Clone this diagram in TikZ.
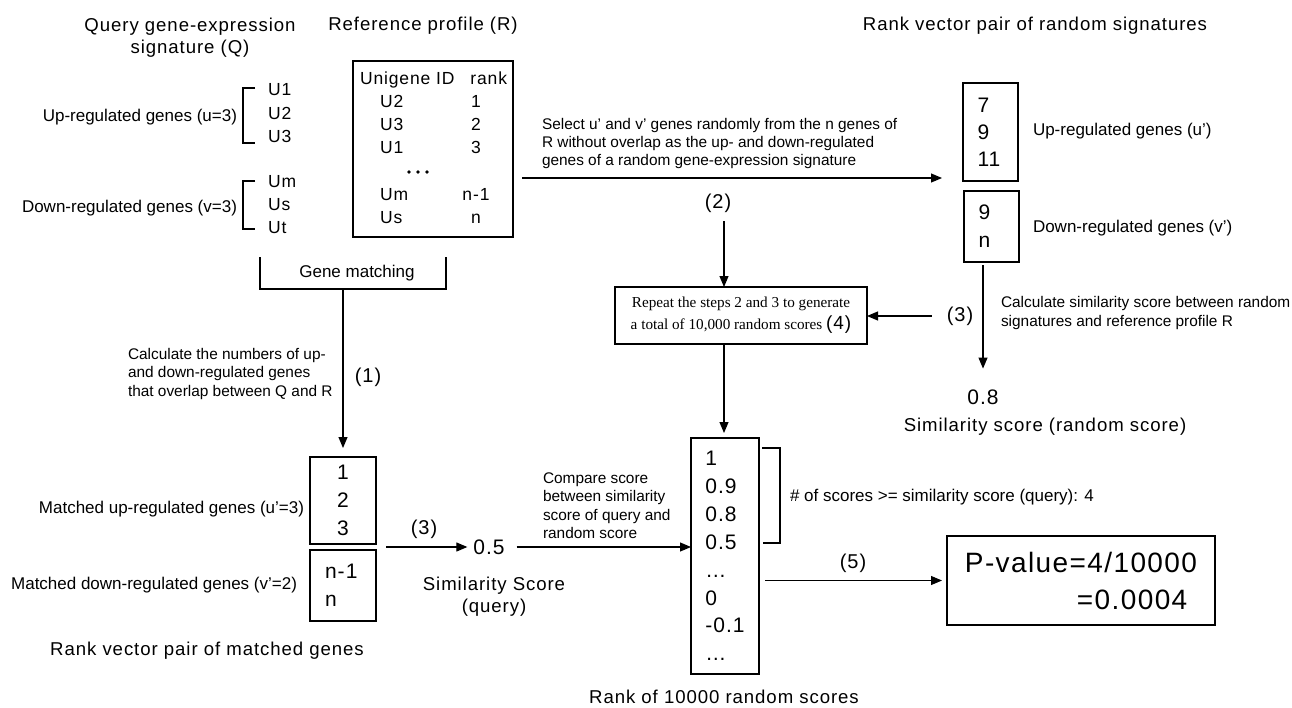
\documentclass[tikz,border=0pt]{standalone}
\usepackage{fontspec}
\setmainfont{Liberation Sans}
\newfontfamily\spf[LetterSpace=5]{Liberation Sans}
\newfontfamily\serf{Liberation Serif}
\usetikzlibrary{arrows.meta,calc}
\begin{document}
\begin{tikzpicture}[x=1pt,y=-1pt,
  every node/.style={inner sep=0pt, outer sep=0pt},
  arr/.style={line width=1.1pt, -{Triangle[length=11pt,width=9pt]}},
  ln/.style={line width=1.1pt},
  boxs/.style={draw, line width=1.2pt},
  ttl/.style={font=\spf\fontsize{18.6}{22}\selectfont, align=center},
  lab/.style={font=\fontsize{17}{20}\selectfont, text height=12.5pt, text depth=3.5pt},
  sml/.style={font=\fontsize{15.4}{18.4}\selectfont, align=left},
  num/.style={font=\spf\fontsize{21}{27.9}\selectfont},
  gen/.style={font=\spf\fontsize{17.5}{23}\selectfont, text height=12.8pt, text depth=3.6pt},
  stepn/.style={font=\spf\fontsize{20}{24}\selectfont},
]
\fill[white] (0,0) rectangle (1292,707);
\useasboundingbox (0,0) rectangle (1292,707);

% titles
\node[ttl] (tq) at (190,38) {Query gene-expression\\signature (Q)};
\node[ttl] (tr) at (423,26) {Reference profile\hspace{6pt}(R)};
\node[ttl] (trs) at (1035,26) {Rank vector pair of random signatures};

% query signature
\node[lab, anchor=east] (upq) at (237,117) {Up-regulated genes (u=3)};
\node[lab, anchor=east] (dnq) at (237,208) {Down-regulated genes (v=3)};
\draw[ln] (255,88) -- (243,88) -- (243,143) -- (255,143);
\draw[ln] (255,181) -- (243,181) -- (243,229) -- (255,229);
\node[gen, anchor=west] (u1) at (268,91) {U1};
\node[gen, anchor=west] (u2) at (268,115) {U2};
\node[gen, anchor=west] (u3) at (268,138) {U3};
\node[gen, anchor=west] (um) at (268,183) {Um};
\node[gen, anchor=west] (us) at (268,206) {Us};
\node[gen, anchor=west] (ut) at (268,229) {Ut};

% reference profile
\node[boxs, minimum width=160, minimum height=176] (ref) at (433,149) {};
\node[gen, anchor=west] (hid) at (360,80) {Unigene ID};
\node[gen, anchor=east] (hrk) at (507,80) {rank};
\node[gen, anchor=west] (r1) at (380,103) {U2};
\node[gen, anchor=west] (r2) at (380,126) {U3};
\node[gen, anchor=west] (r3) at (380,149) {U1};
\node[gen, anchor=west] (r4) at (380,196) {Um};
\node[gen, anchor=west] (r5) at (380,219) {Us};
\node[gen] (k1) at (476,103) {1};
\node[gen] (k2) at (476,126) {2};
\node[gen] (k3) at (476,149) {3};
\node[gen] (k4) at (476,196) {n-1};
\node[gen] (k5) at (476,219) {n};
\fill (409,172) circle (1.9);
\fill (418,172) circle (1.9);
\fill (427,172) circle (1.9);

% gene matching
\draw[ln] (260,257) -- (260,289) -- (446,289) -- (446,257);
\coordinate (gmb) at (343,289);
\node[lab] (gm) at (357,273) {Gene matching};

\node[boxs, minimum width=66, minimum height=87, num, align=center] (b123) at (343,500.5) {1\\2\\3};
\node[boxs, minimum width=66, minimum height=71, num, text width=36, align=left] (bn) at (343,585.5) {n-1\\n};
\draw[arr, shorten >=9pt] (gmb) -- (b123.north);
\node[sml, anchor=west] (calc1) at (128,374) {Calculate the numbers of up-\\and down-regulated genes\\that overlap between Q and R};
\node[stepn] (p1) at (368,377) {(1)};

\node[lab, anchor=east] (mup) at (304,509) {Matched up-regulated genes (u’=3)};
\node[lab, anchor=east] (mdn) at (297,585) {Matched down-regulated genes (v’=2)};
\node[ttl] (rvm) at (207,651) {Rank vector pair of matched genes};

% query score
\coordinate (mid) at ($(b123.south east)!0.5!(bn.north east)$);
\node[num] (s05) at (489,547) {0.5};
\draw[arr, shorten <=10pt, shorten >=6pt] (mid) -- (mid -| s05.west);
\node[stepn] (p3a) at (424,529) {(3)};
\node[ttl] (ssq) at (494,597) {Similarity Score\\(query)};
\node[sml, anchor=west] (cmp) at (543,505.5) {Compare score\\between similarity\\score of query and\\random score};

% rank of random scores
\node[boxs, minimum width=68, minimum height=236, num, align=left] (rank) at (725,556) {1\\0.9\\0.8\\0.5\\…\\0\\-0.1\\…};
\draw[arr, shorten <=12pt] (s05.east) -- (s05.east -| rank.west);
\draw[ln] (762,448) -- (780,448) -- (780,543) -- (763,543);
\node[lab, anchor=west] (cnt) at (790,497) {\# of scores >= similarity score (query): 4};
\node[ttl] (rks) at (724,697) {Rank of 10000 random scores};

% p-value
\node[boxs, minimum width=268, minimum height=89, font=\spf\fontsize{28}{37}\selectfont, align=left] (pv) at (1081,580.5) {P-value=4/10000\\\hspace*{112pt}=0.0004};
\node[stepn] (p5) at (853,563) {(5)};
\draw[arr, shorten <=6pt, shorten >=5pt] (rank.east |- pv.west) -- (pv.west);

% random signatures
\node[boxs, minimum width=55, minimum height=98, font=\spf\fontsize{21}{27}\selectfont, text width=26, align=left] (b7) at (990.5,132) {7\\9\\11};
\node[boxs, minimum width=55, minimum height=71, font=\spf\fontsize{21}{28}\selectfont, text width=26, align=left] (b9) at (991.5,226.5) {9\\n};
\node[lab, anchor=west] (upr) at (1033,131) {Up-regulated genes (u’)};
\node[lab, anchor=west] (dnr) at (1033,228) {Down-regulated genes (v’)};

\node[sml, anchor=west] (sel) at (542,143.5) {Select u’ and v’ genes randomly from the n genes of\\R without overlap as the up- and down-regulated\\genes of a random gene-expression signature};
\coordinate (selY) at (0,178);
\draw[arr, shorten <=9pt, shorten >=21pt] (ref.east |- selY) -- (b7.west |- selY);

\node[stepn] (p2) at (718,203) {(2)};
\coordinate (colx) at (724,0);
\node[boxs, minimum width=252, minimum height=57, font=\serf\fontsize{15.2}{22}\selectfont, align=center] (rep) at (741,315.5) {Repeat the steps 2 and 3 to generate\\a total of 10,000 random scores {\spf\fontsize{19}{22}\selectfont(4)}};
\draw[arr, shorten <=9pt] (p2.south -| colx) -- (rep.north -| colx);
\draw[arr, shorten >=5pt] (rep.south -| colx) -- (rank.north -| colx);

\node[stepn] (p3b) at (960,316) {(3)};
\draw[arr, shorten <=15pt] (p3b.west) -- (p3b.west -| rep.east);

\node[num] (s08) at (983,397) {0.8};
\draw[arr, shorten <=3pt, shorten >=21pt] (b9.south -| s08.north) -- (s08.north);
\node[ttl] (ssr) at (1045,427) {Similarity score (random score)};
\node[sml, anchor=west] (csr) at (1001,313) {Calculate similarity score between random\\signatures and reference profile R};
\end{tikzpicture}
\end{document}
